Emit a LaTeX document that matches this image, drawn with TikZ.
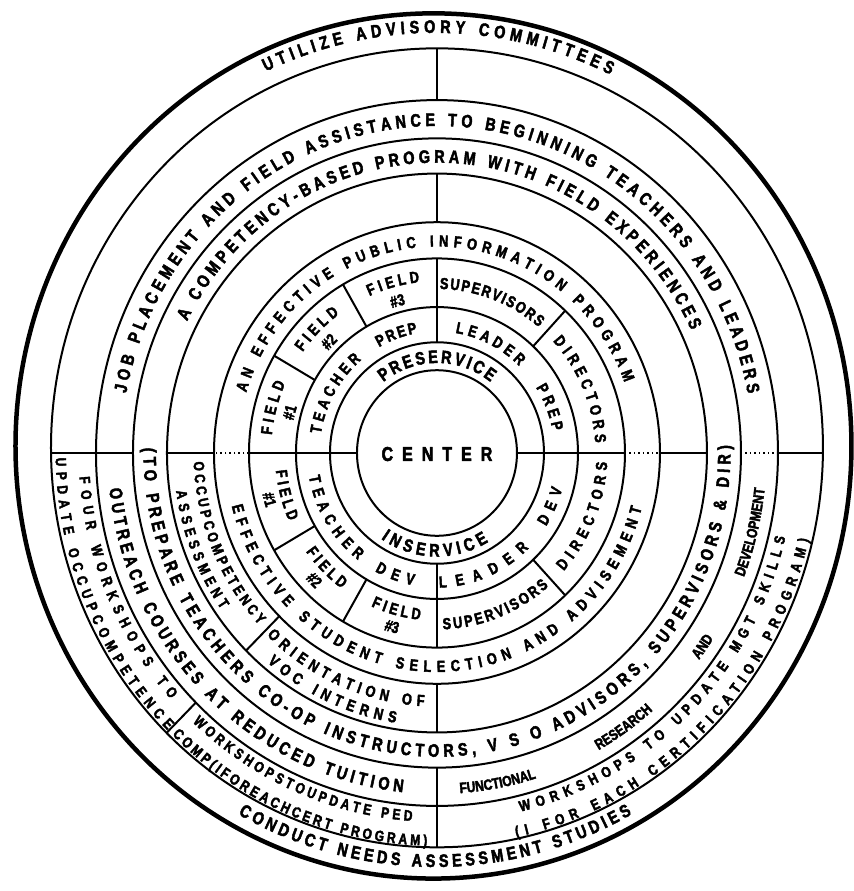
\documentclass[tikz,border=0pt]{standalone}
\usepackage{fontspec}
\setmainfont{Liberation Sans}[FakeStretch=0.8, BoldFeatures={FakeBold=2.5}]
\usetikzlibrary{decorations.text}

\newcommand{\fbig}{\fontsize{18}{18}\selectfont\bfseries}
\newcommand{\fmid}{\fontsize{16}{16}\selectfont\bfseries}
\newcommand{\fsmall}{\fontsize{15}{15}\selectfont\bfseries}
% text set on an arc: [align]{centre}{radius}{from}{to}{font}{text}
\newcommand{\arctext}[7][fit to path]{%
  \path[decorate, decoration={text along path, text align={#1}, text={|#6|#7}}]
    (#2) ++(#4:#3) arc[start angle=#4, end angle=#5, radius=#3];}

\begin{document}
\begin{tikzpicture}[
  x=1pt, y=1.035pt,
  ring/.style={line width=2pt},
  rim/.style={line width=4.5pt},
  spoke/.style={line width=2pt},
  dotspoke/.style={line width=2pt, dash pattern=on 1.5pt off 3pt},
]
\path[use as bounding box, fill=white] (-437,-423.2) rectangle (417,437.7);

% rings
\foreach \r in {80,107,141,188,223,270,304,341}
  \draw[ring] (0,0) circle[radius=\r];
\draw[ring] (0,5) circle[radius=386];
\draw[rim] (-3.5,6.8) circle[radius=418];

% vertical dividers
\draw[spoke] (90:341) -- (0,391);
\draw[spoke] (90:223) -- (90:270);
\draw[spoke] (90:107) -- (90:188);
\draw[spoke] (270:107) -- (270:188);
\draw[spoke] (270:223) -- (270:270);
\draw[spoke] (270:304) -- (0,-381);

% horizontal dividers
\draw[spoke] (180:80) -- (180:188);
\draw[dotspoke] (180:188) -- (180:223);
\draw[spoke] (180:223) -- (180:270);
\draw[spoke] (180:304) -- (-386,0);
\draw[spoke] (0:80) -- (0:188);
\draw[dotspoke] (0:188) -- (0:223);
\draw[spoke] (0:223) -- (0:270);
\draw[dotspoke] (0:304) -- (0:341);
\draw[spoke] (0:341) -- (386,0);

% cell dividers
\foreach \a in {150,120,47,210,240,313}
  \draw[spoke] (\a:141) -- (\a:188);
\draw[spoke] (225:223) -- (225:270);
\draw[spoke] (225:341) -- (225:382.5);

\node[font=\fontsize{20}{20}\selectfont\bfseries] (hub) at (0,-1)
  {C\kern9pt E\kern9pt N\kern9pt T\kern9pt E\kern9pt R};

% outer band
\arctext{-2,6}{400}{115}{64}{\fbig}{UTILIZE ADVISORY COMMITTEES}
\arctext{-2,6}{406}{241}{299}{\fbig}{CONDUCT NEEDS ASSESSMENT STUDIES}

% workshops band
\arctext{0,2}{358.4}{184}{222}{\fsmall}{FOUR WORKSHOPS TO}
\arctext{0,2}{381.4}{181}{225}{\fsmall}{UPDATE OCCUPCOMPETENCE}
\arctext{0,2}{358.4}{227}{266}{\fsmall}{WORKSHOPSTOUPDATE PED}
\arctext{0,2}{381.4}{226}{268.5}{\fsmall}{COMP(IFOREACHCERT PROGRAM)}
\arctext{0,2}{358.4}{283.5}{346.5}{\fsmall}{WORKSHOPS TO UPDATE MGT SKILLS}
\arctext{0,2}{381.4}{282}{347}{\fsmall}{(I FOR EACH CERTIFICATION PROGRAM)}

% job placement band
\arctext{0,0}{316}{169.5}{10.5}{\fbig}{JOB PLACEMENT AND FIELD ASSISTANCE TO BEGINNING TEACHERS AND LEADERS}
\arctext{0,0}{329.5}{186}{264}{\fbig}{OUTREACH COURSES AT REDUCED TUITION}
\arctext[fit to path stretching spaces]{0,0}{329.5}{274}{354}{\fsmall}{FUNCTIONAL RESEARCH AND DEVELOPMENT}

% competency band
\arctext{0,0}{280.5}{153}{25}{\fbig}{A COMPETENCY-BASED PROGRAM WITH FIELD EXPERIENCES}
\arctext{0,0}{293.5}{179}{361.5}{\fbig}{(TO PREPARE TEACHERS CO-OP INSTRUCTORS, V S O ADVISORS, SUPERVISORS {\&} DIR)}

% lower left cells
\arctext{0,0}{243.5}{182}{223}{\fsmall}{OCCUPCOMPETENCY}
\arctext{0,0}{263.5}{188}{215}{\fsmall}{ASSESSMENT}
\arctext{0,0}{245}{226}{267}{\fmid}{ORIENTATION OF}
\arctext{0,0}{264}{230}{261}{\fmid}{VOC INTERNS}

% information band
\arctext{0,0}{199.5}{163}{20}{\fmid}{AN EFFECTIVE PUBLIC INFORMATION PROGRAM}
\arctext{0,0}{211.5}{194}{345.5}{\fmid}{EFFECTIVE STUDENT SELECTION AND ADVISEMENT}

% field band, upper half
\arctext{0,0}{166}{174}{156}{\fmid}{FIELD}
\arctext[center]{0,0}{147}{178}{152}{\fmid}{{\#}1}
\arctext{0,0}{166}{144}{126}{\fmid}{FIELD}
\arctext[center]{0,0}{147}{148}{122}{\fmid}{{\#}2}
\arctext{0,0}{166}{114}{96}{\fmid}{FIELD}
\arctext[center]{0,0}{147}{118}{92}{\fmid}{{\#}3}
\arctext{0,0}{158.5}{89}{50}{\fmid}{SUPERVISORS}
\arctext{0,0}{158.5}{43}{3.5}{\fmid}{DIRECTORS}

% field band, lower half
\arctext{0,0}{162}{186}{204}{\fmid}{FIELD}
\arctext[center]{0,0}{179}{182}{208}{\fmid}{{\#}1}
\arctext{0,0}{162}{216}{234}{\fmid}{FIELD}
\arctext[center]{0,0}{179}{212}{238}{\fmid}{{\#}2}
\arctext{0,0}{162}{246}{264}{\fmid}{FIELD}
\arctext[center]{0,0}{179}{242}{268}{\fmid}{{\#}3}
\arctext{0,0}{170.5}{272}{311}{\fmid}{SUPERVISORS}
\arctext{0,0}{170.5}{318}{357}{\fmid}{DIRECTORS}

% prep / dev band
\arctext{0,0}{117.5}{171}{130}{\fmid}{TEACHER}
\arctext{0,0}{117.5}{119.5}{99.6}{\fmid}{PREP}
\arctext{0,0}{117.5}{81}{45.6}{\fmid}{LEADER}
\arctext{0,0}{117.5}{32.6}{10.4}{\fmid}{PREP}
\arctext{0,0}{130}{190}{232.7}{\fmid}{TEACHER}
\arctext{0,0}{130}{241.5}{259.5}{\fmid}{DEV}
\arctext{0,0}{130}{271}{315}{\fmid}{LEADER}
\arctext{0,0}{130}{327}{344.5}{\fmid}{DEV}

% service band
\arctext{0,0}{87}{128}{52}{\fbig}{PRESERVICE}
\arctext{0,0}{100}{236}{301}{\fbig}{INSERVICE}
\end{tikzpicture}
\end{document}
